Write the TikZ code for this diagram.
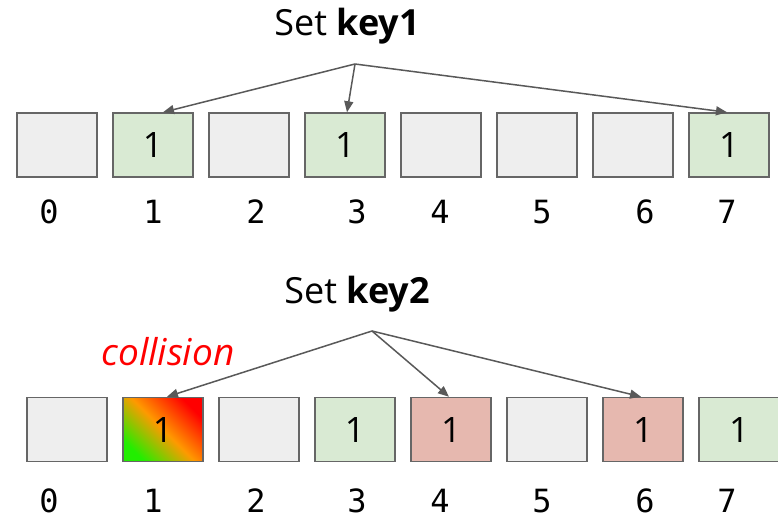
\documentclass[tikz,border=0pt]{standalone}
\usepackage{fontspec}
\setmainfont{Open Sans}
\newfontfamily\idxfont{DejaVu Sans Mono}
\usetikzlibrary{arrows.meta}
\definecolor{cellborder}{HTML}{666666}
\definecolor{cellempty}{HTML}{EEEEEE}
\definecolor{cellset}{HTML}{D9EAD3}
\definecolor{cellhit}{HTML}{E6B8AF}
\definecolor{arrowgray}{HTML}{595959}
\definecolor{gradgreen}{HTML}{22EE00}
\definecolor{gradorange}{HTML}{FF9900}
\tikzset{
  cell/.style={draw=cellborder, line width=1.5pt, minimum width=80pt, minimum height=64pt,
    inner sep=0pt},
  emptycell/.style={cell, fill=cellempty},
  setcell/.style={cell, fill=cellset},
  hitcell/.style={cell, fill=cellhit},
  bit/.style={font=\fontsize{35}{40}\selectfont, inner sep=0pt},
  idx/.style={anchor=base, inner sep=0pt, font=\idxfont\fontsize{32}{38}\selectfont},
  title/.style={anchor=base, font=\fontsize{36}{42}\selectfont},
  ptr/.style={draw=arrowgray, line width=1.5pt, -{Triangle[length=11pt,width=9pt]}}
}
\begin{document}
\begin{tikzpicture}[x=1pt,y=-1pt]
\useasboundingbox[fill=white] (0,0) rectangle (778,517);

% ---- first insertion: key1 ----
\node[title] (t1) at (347,35) {Set \textbf{key1}};
\coordinate (s1) at (355,64);
\foreach \i/\st in {0/emptycell,1/setcell,2/emptycell,3/setcell,4/emptycell,5/emptycell,6/emptycell,7/setcell}{
  \node[\st] (a\i) at (57+96*\i,145) {};
}
\foreach \i in {1,3,7}{
  \node[bit] (av\i) at (a\i) {1};
}
\foreach \i/\x in {0/49,1/153,2/256,3/357,4/440,5/542,6/645,7/727}{
  \node[idx] (ai\i) at (\x,223) {\i};
}
\draw[ptr] (s1) -- ([xshift=10pt]a1.north);
\draw[ptr] (s1) -- ([xshift=2pt]a3.north);
\draw[ptr] (s1) -- ([xshift=-2pt]a7.north);

% ---- second insertion: key2 ----
\node[title] (t2) at (357,303) {Set \textbf{key2}};
\coordinate (s2) at (372,331);
\foreach \i/\st in {0/emptycell,2/emptycell,3/setcell,4/hitcell,5/emptycell,6/hitcell,7/setcell}{
  \node[\st] (b\i) at (67+96*\i,429.5) {};
}
\node[cell, top color=red, bottom color=gradgreen, middle color=gradorange, shading angle=-45] (b1) at (163,429.5) {};
\foreach \i in {1,3,4,6,7}{
  \node[bit] (bv\i) at (b\i) {1};
}
\foreach \i/\x in {0/49,1/153,2/256,3/357,4/440,5/542,6/645,7/727}{
  \node[idx] (bi\i) at (\x,512) {\i};
}
\node[anchor=base, text=red, font=\itshape\fontsize{37}{44}\selectfont] (col) at (168,365) {collision};
\draw[ptr] (s2) -- ([xshift=4pt]b1.north);
\draw[ptr] (s2) -- ([xshift=-2pt]b4.north);
\draw[ptr] (s2) -- ([xshift=-2pt]b6.north);
\end{tikzpicture}
\end{document}
